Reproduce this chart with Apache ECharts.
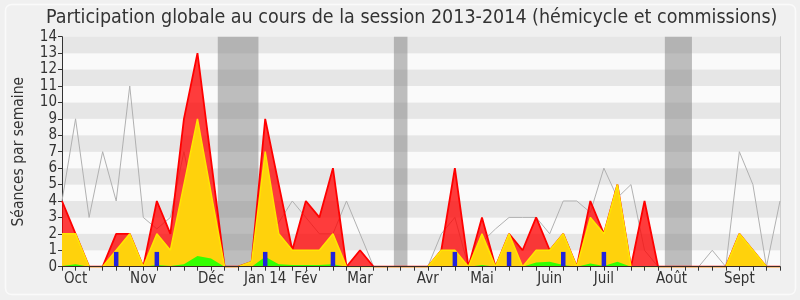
<!DOCTYPE html>
<html>
<head>
<meta charset="utf-8">
<script src="https://cdn.jsdelivr.net/npm/echarts@6/dist/echarts.min.js"></script>
<style>html,body{margin:0;padding:0;background:#f0f0f0;}#c{width:800px;height:300px;}</style>
</head>
<body>
<div id="c"></div>
<script>
// Week tick labels (54 weeks, Oct 2013 - Sept 2014)
var weekLabels = ['', 'Oct', '', '', '', '', 'Nov', '', '', '', '', 'Déc', '', '', '', 'Jan 14', '', '', 'Fév', '', '', '', 'Mar', '', '', '', '', 'Avr', '', '', '', 'Mai', '', '', '', '', 'Juin', '', '', '', 'Juil', '', '', '', '', 'Août', '', '', '', '', 'Sept', '', '', ''];
// Total presence (red)
var redValues = [4, 2, 0, 0, 2, 2, 0, 4, 2, 9, 13, 6.5, 0, 0, 0.3, 9, 5, 1, 4, 3, 6, 0, 1, 0, 0, 0, 0, 0, 1, 6, 0, 3, 0, 2, 1, 3, 1, 2, 0, 4, 2, 5, 0, 4, 0, 0, 0, 0, 0, 0, 2, 1, 0, 0];
// Hémicycle (yellow)
var yellowValues = [2, 2, 0, 0, 1, 2, 0, 2, 1, 5, 9, 4.5, 0, 0, 0.3, 7, 2, 1, 1, 1, 2, 0, 0, 0, 0, 0, 0, 0, 1, 1, 0, 2, 0, 2, 0, 1, 1, 2, 0, 3, 2, 5, 0, 0, 0, 0, 0, 0, 0, 0, 2, 1, 0, 0];
// Interventions (green)
var greenValues = [0.05, 0.15, 0, 0, 0.05, 0.05, 0, 0.1, 0.05, 0.15, 0.65, 0.5, 0, 0, 0, 0.6, 0.15, 0.1, 0.1, 0.1, 0.15, 0, 0, 0, 0, 0, 0, 0, 0.05, 0.05, 0, 0.1, 0, 0.05, 0, 0.25, 0.3, 0.1, 0, 0.2, 0.05, 0.3, 0, 0, 0, 0, 0, 0, 0, 0, 0.05, 0.03, 0, 0];
// Median of all deputies (grey line)
var medianValues = [4, 9, 3, 7, 4, 11, 3, 2.3, 3, 7, 3, 2, 0, 0, 0, 1.4, 2.7, 4, 3, 2, 2, 4, 2, 0, 0, 0, 0, 0, 2, 3, 0, 1.5, 2.3, 3, 3, 3, 2, 4, 4, 3.3, 6, 4.2, 5, 1, 0, 0, 0, 0, 1, 0, 7, 5, 0, 4];
// Questions orales (blue bars)
var questionValues = [null, null, null, null, 0.9, null, null, 0.9, null, null, null, null, null, null, null, 0.9, null, null, null, null, 0.9, null, null, null, null, null, null, null, null, 0.9, null, null, null, 0.9, null, null, null, 0.9, null, null, 0.9, null, null, null, null, null, null, null, null, null, null, null, null, null];
// Parliamentary holidays (week index ranges)
var vacations = [[11.5, 14.5], [24.5, 25.5], [44.5, 46.5]];
var yTicks = [0, 14, 1];

var FONT = 'DejaVu Sans Condensed, DejaVu Sans, sans-serif';
var chart = echarts.init(document.getElementById('c'), null, {renderer: 'canvas'});
chart.setOption({
  backgroundColor: '#f0f0f0',
  animation: false,
  title: {
    text: 'Participation globale au cours de la session 2013-2014 (hémicycle et commissions)',
    left: 46, top: 8, padding: 0,
    textStyle: {fontFamily: FONT, fontSize: 19.5, fontWeight: 'normal', color: '#333'}
  },
  graphic: [{
    type: 'rect', z: -1, silent: true,
    shape: {x: 5.5, y: 4.5, width: 790, height: 290, r: 6},
    style: {fill: 'none', stroke: '#fafafa', lineWidth: 1.5}
  }],
  grid: {left: 62, right: 20, top: 36.7, bottom: 33.3},
  xAxis: [{
    type: 'category', data: weekLabels, boundaryGap: false, z: 20,
    axisLine: {lineStyle: {color: '#3a2a22', width: 1.2}},
    axisTick: {show: true, interval: 0, length: 4, lineStyle: {color: '#333'}},
    axisLabel: {interval: 0, fontFamily: FONT, fontSize: 15, color: '#333', margin: 5},
    splitLine: {show: false}
  }, {
    type: 'value', position: 'top', min: 0, max: 53, interval: 1,
    axisLine: {show: false},
    axisTick: {show: true, inside: true, length: 2, lineStyle: {color: '#333'}},
    axisLabel: {show: false}, splitLine: {show: false}
  }],
  yAxis: [{
    type: 'value', min: yTicks[0], max: yTicks[1], interval: yTicks[2],
    name: 'Séances par semaine', nameLocation: 'middle', nameGap: 35,
    nameTextStyle: {fontFamily: FONT, fontSize: 15.5, color: '#333'},
    axisLine: {show: true, lineStyle: {color: '#333'}},
    axisTick: {show: true, length: 4, lineStyle: {color: '#333'}},
    axisLabel: {fontFamily: FONT, fontSize: 15, color: '#333', margin: 5},
    splitLine: {show: false},
    splitArea: {show: true, areaStyle: {color: ['#fafafa', '#e6e6e6']}}
  }, {
    type: 'value', position: 'right', min: 0, max: 14,
    axisLine: {show: true, lineStyle: {color: '#cfcfcf'}},
    axisTick: {show: false}, axisLabel: {show: false}, splitLine: {show: false}
  }],
  series: [{
    type: 'line', xAxisIndex: 1, yAxisIndex: 0, data: [], z: 1, silent: true,
    markArea: {silent: true, itemStyle: {color: 'rgba(128,128,128,0.5)'},
      data: vacations.map(function (v) { return [{xAxis: v[0]}, {xAxis: v[1]}]; })}
  }, {
    name: 'Médiane', type: 'line', data: medianValues, z: 2, symbol: 'none',
    lineStyle: {color: '#b0b0b0', width: 1}
  }, {
    name: 'Présence', type: 'line', data: redValues, z: 3, symbol: 'none',
    lineStyle: {color: '#ff0000', width: 1.8},
    areaStyle: {color: 'rgba(255,0,0,0.76)', opacity: 1}
  }, {
    name: 'Hémicycle', type: 'line', data: yellowValues, z: 4, symbol: 'none',
    lineStyle: {color: '#ffe600', width: 1.5},
    areaStyle: {color: '#ffd20c', opacity: 1}
  }, {
    name: 'Interventions', type: 'line', data: greenValues, z: 5, symbol: 'none',
    lineStyle: {width: 0},
    areaStyle: {color: '#33ff00', opacity: 1}
  }, {
    name: 'Questions', type: 'bar', data: questionValues, z: 6, barWidth: 4.5,
    itemStyle: {color: '#2222dd'}
  }]
});
</script>
</body>
</html>
